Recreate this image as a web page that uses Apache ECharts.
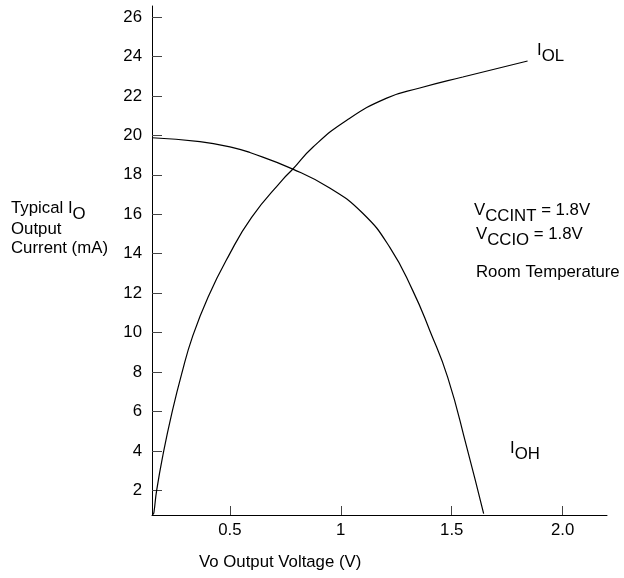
<!DOCTYPE html>
<html>
<head>
<meta charset="utf-8">
<title>Typical IO Output Current</title>
<script src="https://cdn.jsdelivr.net/npm/echarts@6.0.0/dist/echarts.min.js"></script>
<style>
  html, body { margin: 0; padding: 0; background: #fff; }
  #chart { width: 624px; height: 578px; }
</style>
</head>
<body>
<div id="chart"></div>
<script>
// 曲线数据
const volOL = [0.155, 0.158, 0.170, 0.200, 0.238, 0.283, 0.332, 0.402, 0.492, 0.598, 0.740, 0.782, 0.874, 1.027, 1.207, 1.356, 1.550, 1.842];
const curOL = [0.78, 0.90, 2.00, 3.89, 5.89, 7.92, 9.81, 11.81, 13.84, 15.84, 17.78, 18.27, 19.40, 20.77, 21.89, 22.40, 22.96, 23.77];

const volOH = [0.149, 0.365, 0.514, 0.590, 0.784, 0.950, 1.099, 1.221, 1.324, 1.401, 1.482, 1.568, 1.644];
const curOH = [19.88, 19.68, 19.38, 19.13, 18.29, 17.33, 16.05, 14.32, 12.14, 10.11, 7.73, 4.18, 0.82];

// 刻度
const xTicks = [0.5, 1, 1.5, 2];
const xTickLabels = ['0.5', '1', '1.5', '2.0'];
const yTicks = [2, 4, 6, 8, 10, 12, 14, 16, 18, 20, 22, 24, 26];

const FONT = '"Liberation Sans", Arial, Helvetica, sans-serif';
const FS = 16.8;

function pairs(xs, ys) {
    return xs.map((x, i) => [x, ys[i]]);
}

// 下标文字样式
const subRich = {
    m: { fontFamily: FONT, fontSize: FS, color: '#000', padding: [0, 0, 6, 0] },
    s: { fontFamily: FONT, fontSize: FS, color: '#000', padding: [6, 0, 0, 0] }
};

const chart = echarts.init(document.getElementById('chart'));

const option = {
    animation: false,
    backgroundColor: '#fff',
    grid: { left: 152, right: 17, top: 6, bottom: 63 },
    xAxis: {
        type: 'value',
        min: 0.149,
        max: 2.2,
        splitLine: { show: false },
        axisLine: { lineStyle: { color: '#000', width: 1 } },
        axisTick: {
            inside: true,
            length: 9,
            customValues: xTicks,
            lineStyle: { color: '#444' }
        },
        axisLabel: {
            customValues: xTicks,
            margin: 7,
            color: '#000',
            fontFamily: FONT,
            fontSize: FS,
            formatter: v => xTickLabels[xTicks.indexOf(v)] || ''
        }
    },
    yAxis: {
        type: 'value',
        min: 0.75,
        max: 26.56,
        splitLine: { show: false },
        axisLine: { show: true, lineStyle: { color: '#000', width: 1 } },
        axisTick: {
            inside: true,
            length: 10,
            customValues: yTicks,
            lineStyle: { color: '#444' }
        },
        axisLabel: {
            customValues: yTicks,
            margin: 10,
            color: '#000',
            fontFamily: FONT,
            fontSize: FS
        }
    },
    series: [
        {
            name: 'IOL',
            type: 'line',
            data: pairs(volOL, curOL),
            smooth: 0.5,
            showSymbol: false,
            lineStyle: { color: '#000', width: 1.2 }
        },
        {
            name: 'IOH',
            type: 'line',
            data: pairs(volOH, curOH),
            smooth: 0.5,
            showSymbol: false,
            lineStyle: { color: '#000', width: 1.2 }
        }
    ],
    graphic: [
        {
            type: 'text', left: 537, top: 42,
            style: { text: '{m|I}{s|OL}', rich: subRich }
        },
        {
            type: 'text', left: 510, top: 440,
            style: { text: '{m|I}{s|OH}', rich: subRich }
        },
        {
            type: 'text', left: 474, top: 202,
            style: { text: '{m|V}{s|CCINT}{m| = 1.8V}', rich: subRich }
        },
        {
            type: 'text', left: 476, top: 226,
            style: { text: '{m|V}{s|CCIO}{m| = 1.8V}', rich: subRich }
        },
        {
            type: 'text', left: 476, top: 264,
            style: { text: 'Room Temperature', fontFamily: FONT, fontSize: FS, fill: '#000' }
        },
        {
            type: 'text', left: 11, top: 200,
            style: { text: '{m|Typical I}{s|O}', rich: subRich }
        },
        {
            type: 'text', left: 11, top: 221,
            style: { text: 'Output', fontFamily: FONT, fontSize: FS, fill: '#000' }
        },
        {
            type: 'text', left: 11, top: 240,
            style: { text: 'Current (mA)', fontFamily: FONT, fontSize: FS, fill: '#000' }
        },
        {
            type: 'text', left: 199, top: 554,
            style: { text: 'Vo Output Voltage (V)', fontFamily: FONT, fontSize: FS, fill: '#000' }
        }
    ]
};

chart.setOption(option);
</script>
</body>
</html>
